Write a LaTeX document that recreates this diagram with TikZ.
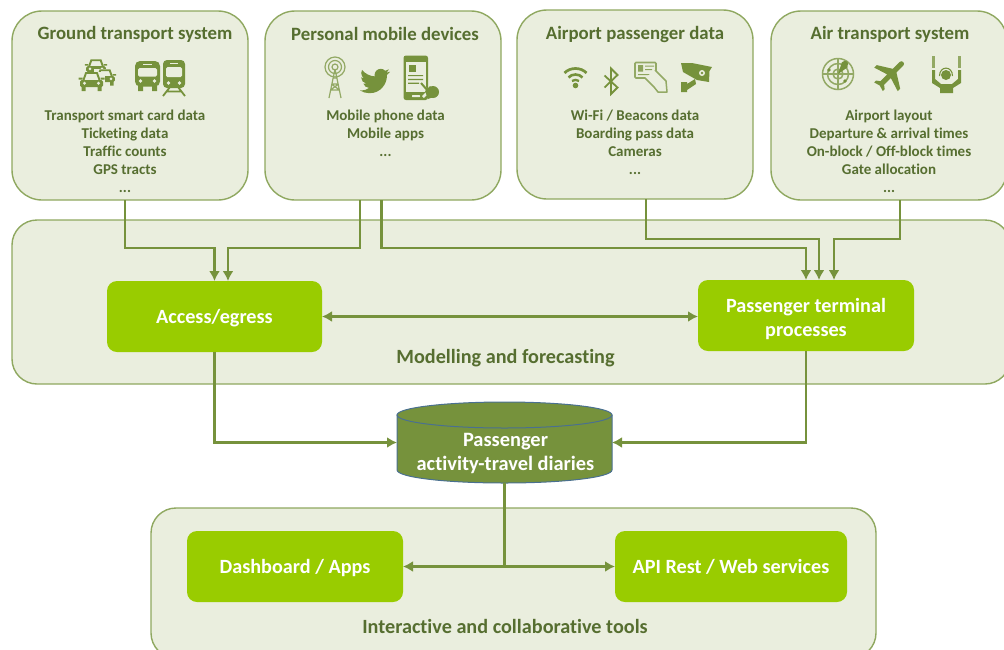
\documentclass[tikz,border=0pt]{standalone}
\usepackage{fontspec}
\setmainfont{Carlito}[Ligatures=CommonOff]
\usetikzlibrary{arrows.meta,svg.path}
\definecolor{panelfill}{HTML}{EAEEDE}
\definecolor{panelline}{HTML}{8FA860}
\definecolor{conn}{HTML}{76923C}
\definecolor{bright}{HTML}{99CC00}
\definecolor{paneltext}{HTML}{566E30}
\definecolor{cylline}{HTML}{4A7090}
\tikzset{
  panel/.style={draw=panelline,fill=panelfill,line width=1.4pt,rounded corners=#1,outer sep=0pt,inner sep=0pt},
  srcbox/.style={panel=30pt,minimum width=236pt,minimum height=189pt},
  stage/.style={fill=bright,rounded corners=10pt,minimum height=71pt,outer sep=0pt,inner sep=0pt,text=white,align=center,text depth=0pt,font=\fontsize{20.2}{24}\selectfont\bfseries},
  title/.style={text=paneltext,font=\fontsize{18.8}{20}\selectfont\bfseries,inner sep=0pt},
  items/.style={text=paneltext,align=center,font=\fontsize{15}{18}\selectfont\bfseries,inner sep=0pt},
  caption/.style={text=paneltext,font=\fontsize{20.2}{22}\selectfont\bfseries,inner sep=0pt},
  link/.style={draw=conn,line width=2.8pt},
  arrow/.style={link,-{Latex[length=10pt,width=11pt]}},
  both/.style={link,{Latex[length=10pt,width=11pt]}-{Latex[length=10pt,width=11pt]}},
  ic/.style={fill=conn,draw=none},
  ig/.style={draw=conn!75!panelfill,line width=1.2pt,fill=none},
  caricon/.pic={
    \fill[panelfill] (-13,-9) rectangle (13,10);
    \draw[conn,line width=1.9pt] (-8,-1) -- (-5.5,-8) -- (5.5,-8) -- (8,-1);
    \fill[ic,rounded corners=1.5pt] (-11.5,-1) rectangle (11.5,6);
    \fill[ic] (-13,-3.5) rectangle (-9,-1.5) (9,-3.5) rectangle (13,-1.5);
    \fill[ic] (-10,6) rectangle (-6,10) (6,6) rectangle (10,10);
    \fill[panelfill] (-7,2.2) circle (1.7) (7,2.2) circle (1.7);
  }
}
\begin{document}
\begin{tikzpicture}[x=1pt,y=-1pt]
\useasboundingbox (0,0) rectangle (1004,649);
\clip (0,0) rectangle (1004,649);
% panels
\node[srcbox] (ground) at (130,105.5) {};
\node[srcbox] (personal) at (383,105.5) {};
\node[srcbox] (airportdata) at (635,104.5) {};
\node[srcbox] (airtransport) at (889,105.5) {};
\node[panel=25pt,minimum width=998pt,minimum height=164pt] (modelling) at (511,302) {};
\node[panel=25pt,minimum width=725pt,minimum height=150pt] (tools) at (513.5,583) {};
% source titles
\node[title] (t1) at (135,34) {Ground transport system};
\node[title] (t2) at (385,34) {Personal mobile devices};
\node[title] (t3) at (635,34) {Airport passenger data};
\node[title] (t4) at (890,34) {Air transport system};
% source items
\node[items] (i1) at (125,151) {Transport smart card data\\Ticketing data\\Traffic counts\\GPS tracts\\...};
\node[items] (i2) at (385.5,133) {Mobile phone data\\Mobile apps\\...};
\node[items] (i3) at (635,142) {Wi-Fi / Beacons data\\Boarding pass data\\Cameras\\...};
\node[items] (i4) at (889,151) {Airport layout\\Departure \& arrival times\\On-block / Off-block times\\Gate allocation\\...};
% stages
\node[stage,minimum width=215pt] (access) at (214.5,316.5) {Access/egress};
\node[stage,minimum width=216pt] (terminal) at (806,315.5) {\rule{0pt}{17pt}Passenger terminal\\processes};
\node[stage,minimum width=216pt] (dashboard) at (295,566.5) {Dashboard / Apps};
\node[stage,minimum width=232pt] (api) at (731,566.5) {API Rest / Web services};
\node[caption] (c1) at (505.5,358) {Modelling and forecasting};
\node[caption] (c2) at (505,626) {Interactive and collaborative tools};
% cylinder
\path[fill=conn,draw=cylline,line width=1pt] (397,415) -- (397,470) .. controls (397,477.2) and (444.6,483) .. (504.5,483) .. controls (564.4,483) and (612,477.2) .. (612,470) -- (612,415) -- cycle;
\path[fill=conn,draw=cylline,line width=1pt] (504.5,415) ellipse [x radius=107.5,y radius=13];
\node[minimum width=215pt,minimum height=81pt,inner sep=0pt,outer sep=0pt] (diaries) at (504.5,442.5) {};
\node[text=white,align=center,font=\fontsize{20.4}{24}\selectfont\bfseries,inner sep=0pt] (dlabel) at (505.5,453) {Passenger\\activity-travel diaries};
% connectors
\draw[arrow] ([xshift=-5pt]ground.south) -- ++(0,48) -| (access.north);
\draw[arrow] ([xshift=-23pt]personal.south) -- ++(0,48) -| ([xshift=13.5pt]access.north);
\draw[arrow] ([xshift=-1.5pt]personal.south) -- ++(0,48) -| (terminal.north);
\draw[arrow] ([xshift=11pt]airportdata.south) -- ++(0,40) -| ([xshift=13pt]terminal.north);
\draw[arrow] ([xshift=11pt]airtransport.south) -- ++(0,39) -| ([xshift=28pt]terminal.north);
\draw[both] (access.east) -- (access.east -| terminal.west);
\draw[arrow] (access.south) |- (diaries.west);
\draw[arrow] (terminal.south) |- (diaries.east);
\draw[arrow] (diaries.south) |- (dashboard.east);
\draw[arrow] (diaries.south) |- (api.west);
% --- icons: ground transport
\pic at (96,67) [scale=.85] {caricon};
\pic at (105,77) [scale=.85] {caricon};
\pic at (91.5,81) {caricon};
\fill[ic,rounded corners=5pt] (135,61) rectangle (160,86.5);
\fill[ic] (138,86) rectangle (143,91) (152,86) rectangle (157,91);
\fill[panelfill,rounded corners=1.5pt] (138,68) rectangle (157,76.5);
\fill[panelfill] (143,63.5) rectangle (152,65.2);
\fill[panelfill] (140.5,81) circle (1.9) (154.5,81) circle (1.9);
\fill[ic,rounded corners=4pt] (163,60) rectangle (185,88);
\fill[panelfill,rounded corners=1.5pt] (166,67) rectangle (182,77);
\fill[panelfill] (170,62.5) rectangle (178,64.2);
\fill[panelfill] (168.5,83) circle (1.8) (179.5,83) circle (1.8);
\draw[conn,line width=1.8pt] (170,87) -- (163,96) (178,87) -- (185,96) (167,91.5) -- (181,91.5);
% --- icons: personal
\draw[ig] (335,67) circle (10) (335,67) circle (6.5) (335,67) circle (3);
\draw[ig] (335,69) -- (329,98) (335,69) -- (341,98) (332.5,78) -- (337.5,78) (331.5,84) -- (338.5,84) (330.5,90) -- (339.5,90) (331.5,84) -- (339.5,90) (338.5,84) -- (330.5,90);
\fill[ic,shift={(360,66)},xscale=1.25,yscale=-1.25] svg "M 23.954 4.569 c -0.885 0.389 -1.83 0.654 -2.825 0.775 c 1.014 -0.611 1.794 -1.574 2.163 -2.723 c -0.951 0.555 -2.005 0.959 -3.127 1.184 c -0.896 -0.959 -2.173 -1.559 -3.591 -1.559 c -2.717 0 -4.92 2.203 -4.92 4.917 c 0 0.39 0.045 0.765 0.127 1.124 C 7.691 8.094 4.066 6.13 1.64 3.161 c -0.427 0.722 -0.666 1.561 -0.666 2.475 c 0 1.71 0.87 3.213 2.188 4.096 c -0.807 -0.026 -1.566 -0.248 -2.228 -0.616 v 0.061 c 0 2.385 1.693 4.374 3.946 4.827 c -0.413 0.111 -0.849 0.171 -1.296 0.171 c -0.314 0 -0.615 -0.03 -0.916 -0.086 c 0.631 1.953 2.445 3.377 4.604 3.417 c -1.68 1.319 -3.809 2.105 -6.102 2.105 c -0.39 0 -0.779 -0.023 -1.17 -0.067 c 2.189 1.394 4.768 2.209 7.557 2.209 c 9.054 0 13.999 -7.496 13.999 -13.986 c 0 -0.209 0 -0.42 -0.015 -0.63 c 0.961 -0.689 1.8 -1.56 2.46 -2.548 z";
\fill[ic,rounded corners=2.5pt] (403.5,55.5) rectangle (428,100);
\fill[panelfill] (406,62) rectangle (425.5,92);
\fill[ic] (409,64.5) rectangle (416,71.5);
\fill[ic] (408,75) rectangle (423,76.2) (408,78.8) rectangle (423,80) (408,82.6) rectangle (419,83.8);
\fill[panelfill,rounded corners=.5pt] (412,95) rectangle (420,97);
\draw[panelfill,line width=2.6pt] (421,83) -- (428,92) -- (423,97);
\draw[conn,line width=2pt] (421,83) -- (428,91);
\fill[ic] (433,92) circle (6) (425,91) -- (430,86) -- (436,96) -- (428,99) -- cycle;
% --- icons: airport data
\draw[conn,line width=2.7pt] (564.5,73) .. controls (570,67) and (581,67) .. (586.5,73);
\draw[conn,line width=2.6pt] (568.5,77.5) .. controls (572,73.5) and (579,73.5) .. (582.5,77.5);
\draw[conn,line width=2.3pt] (572,81) .. controls (574,79.5) and (577,79.5) .. (579,81);
\fill[ic] (575.5,85.5) circle (2.8);
\draw[conn,line width=1.8pt] (604.5,75.5) -- (617.5,87.5) -- (611,94) -- (611,68.5) -- (617.5,75) -- (604.5,87.5);
\draw[ig,line width=1.6pt,rounded corners=1pt] (635,62.5) rectangle (656,78);
\fill[conn!80!panelfill] (638,65) rectangle (643,71.5) (645,65.5) rectangle (654,66.7) (645,69) rectangle (652,70.2) (638,74) rectangle (651,75.2);
\draw[ig,line width=1.5pt,fill=panelfill,line join=round] (645,78) -- (654,87) -- (658,92) -- (667,92) -- (666,81) -- (655,70);
% camera
\fill[ic] (681,63) -- (692,63) -- (712,67) -- (709.5,71) -- (709,82) -- (697,80) -- (683,72) -- cycle;
\fill[panelfill] (702,73) circle (3);
\fill[ic] (702,73) circle (1.3);
\fill[ic] (681,82) rectangle (687,92) (687,84) -- (695,79) -- (696,84) -- (687,90) -- cycle;
% --- icons: air transport
\draw[ig,line width=1.5pt] (838,74) circle (15.5) (838,74) circle (10.5) (838,74) circle (5);
\draw[ig] (822.5,74) -- (853.5,74) (838,58.5) -- (838,89.5);
\fill[ic] (845,64) circle (3.2) (838,74) -- (842,62) -- (848,67) -- cycle (829,70) circle (1.8) (845,81) circle (1.8);
\fill[ic,shift={(891.5,75)},rotate=-45,xscale=1.75,yscale=-1.75,xshift=-12pt,yshift=-12pt] svg "M 21 16 v -2 l -8 -5 V 3.5 c 0 -0.83 -0.67 -1.5 -1.5 -1.5 S 10 2.67 10 3.5 V 9 l -8 5 v 2 l 8 -2.5 V 19 l -2 1.5 V 22 l 3.5 -1 l 3.5 1 v -1.5 L 13 19 v -5.5 l 8 2.5 z";
\draw[conn!75!panelfill,line width=2.2pt] (933.5,56) -- (933.5,68) (959.5,56) -- (959.5,68);
\fill[ic] (932,70) -- (935,70) -- (935,79) -- (941,84) -- (952,84) -- (958,79) -- (958,70) -- (961,70) -- (961,83) -- (953,88) -- (953,93) -- (940,93) -- (940,88) -- (932,83) -- cycle;
\fill[panelfill] (946,74) circle (8);
\fill[ic] (946,75) circle (5);
\draw[conn,line width=1.1pt] (939.5,76) .. controls (939.5,65.5) and (952.5,65.5) .. (952.5,76);
\fill[ic] (941,84.5) rectangle (951,87);
\end{tikzpicture}
\end{document}
